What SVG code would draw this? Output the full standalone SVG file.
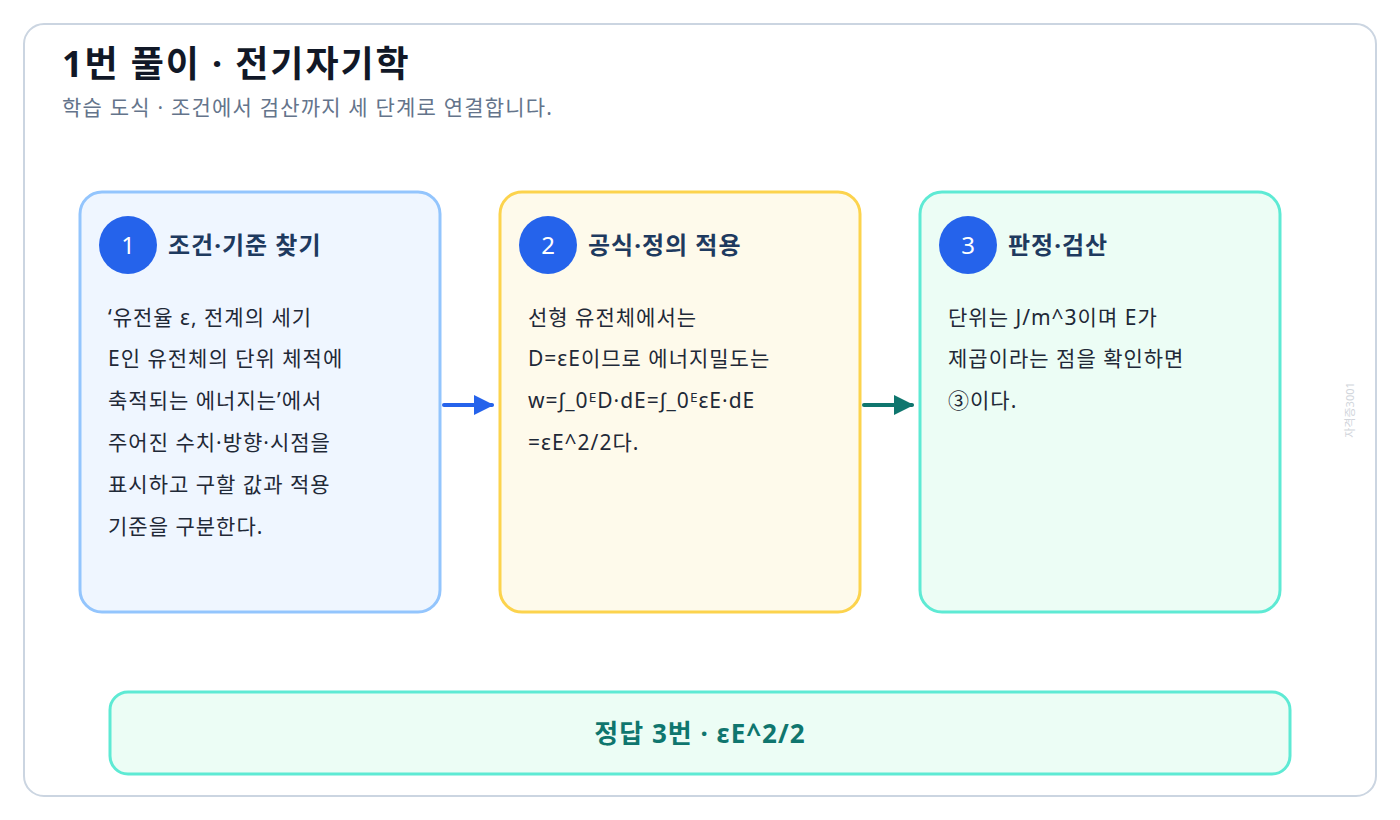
<svg xmlns="http://www.w3.org/2000/svg" width="1400" height="820" viewBox="0 0 1400 820">
<defs>
<style>
text{font-family:"Noto Sans","Noto Sans CJK KR",sans-serif;}
.title{font-size:36px;font-weight:700;fill:#111827;letter-spacing:1.9px;}
.sub{font-size:21px;fill:#64748b;letter-spacing:1.2px;}
.card{stroke-width:3;}
.num{font-size:24px;fill:#ffffff;text-anchor:middle;}
.head{font-size:24px;font-weight:700;fill:#1e3a5f;letter-spacing:1px;}
.body{font-size:21px;fill:#1f2937;letter-spacing:1px;}
.int{font-family:"Liberation Sans","DejaVu Sans",sans-serif;}
.ans{font-size:26px;font-weight:700;fill:#0f766e;text-anchor:middle;letter-spacing:1px;}
.wm{font-size:11px;fill:#d1d5db;}
</style>
<marker id="ab" viewBox="0 0 10 10" refX="9" refY="5" markerWidth="5" markerHeight="5" orient="auto" markerUnits="strokeWidth"><path d="M0,0 L10,5 L0,10 z" fill="#2563eb"/></marker>
<marker id="at" viewBox="0 0 10 10" refX="9" refY="5" markerWidth="5" markerHeight="5" orient="auto" markerUnits="strokeWidth"><path d="M0,0 L10,5 L0,10 z" fill="#0f766e"/></marker>
</defs>
<rect x="0" y="0" width="1400" height="820" fill="#ffffff"/>
<rect x="24" y="24" width="1352" height="772" rx="20" fill="#ffffff" stroke="#cbd5e1" stroke-width="2"/>
<text class="title" x="62" y="77">1번 풀이 · 전기자기학</text>
<text class="sub" x="62" y="115">학습 도식 · 조건에서 검산까지 세 단계로 연결합니다.</text>

<g id="card1">
<rect class="card" x="80" y="192" width="360" height="420" rx="22" fill="#eff6ff" stroke="#93c5fd"/>
<circle cx="128" cy="245" r="29" fill="#2563eb"/>
<text class="num" x="128" y="254">1</text>
<text class="head" x="168" y="254">조건·기준 찾기</text>
<text class="body" x="108" y="325">‘유전율 ε, 전계의 세기</text>
<text class="body" x="108" y="366">E인 유전체의 단위 체적에</text>
<text class="body" x="108" y="408">축적되는 에너지는’에서</text>
<text class="body" x="108" y="450">주어진 수치·방향·시점을</text>
<text class="body" x="108" y="492">표시하고 구할 값과 적용</text>
<text class="body" x="108" y="534">기준을 구분한다.</text>
</g>

<g id="card2">
<rect class="card" x="500" y="192" width="360" height="420" rx="22" fill="#fefaeb" stroke="#fcd34d"/>
<circle cx="548" cy="245" r="29" fill="#2563eb"/>
<text class="num" x="548" y="254">2</text>
<text class="head" x="588" y="254">공식·정의 적용</text>
<text class="body" x="528" y="325">선형 유전체에서는</text>
<text class="body" x="528" y="366">D=εE이므로 에너지밀도는</text>
<text class="body" x="528" y="408">w=<tspan class="int">∫</tspan>_0ᴱD·dE=<tspan class="int">∫</tspan>_0ᴱεE·dE</text>
<text class="body" x="528" y="450">=εE^2/2다.</text>
</g>

<g id="card3">
<rect class="card" x="920" y="192" width="360" height="420" rx="22" fill="#ecfdf5" stroke="#5eead4"/>
<circle cx="968" cy="245" r="29" fill="#2563eb"/>
<text class="num" x="968" y="254">3</text>
<text class="head" x="1008" y="254">판정·검산</text>
<text class="body" x="948" y="325">단위는 J/m^3이며 E가</text>
<text class="body" x="948" y="366">제곱이라는 점을 확인하면</text>
<text class="body" x="948" y="408">③이다.</text>
</g>

<g id="connectors">
<line x1="444" y1="405" x2="492" y2="405" stroke="#2563eb" stroke-width="4" stroke-linecap="round" marker-end="url(#ab)"/>
<line x1="864" y1="405" x2="912" y2="405" stroke="#0f766e" stroke-width="4" stroke-linecap="round" marker-end="url(#at)"/>
</g>

<g id="answer">
<rect x="110" y="692" width="1180" height="82" rx="18" fill="#ecfdf5" stroke="#5eead4" stroke-width="3"/>
<text class="ans" x="700" y="743">정답 3번 · εE^2/2</text>
</g>

<text class="wm" transform="translate(1354,410) rotate(-90)" text-anchor="middle">자격증3001</text>
</svg>
